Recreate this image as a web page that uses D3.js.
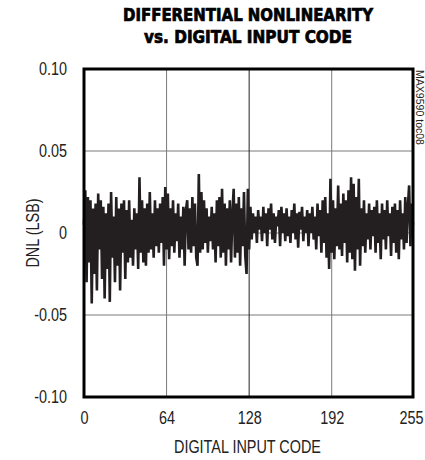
<!DOCTYPE html>
<html>
<head>
<meta charset="utf-8">
<script src="https://cdn.jsdelivr.net/npm/d3@7"></script>
<style>
  body { margin: 0; background: #fff; }
  svg { display: block; }
  .narrow { font-family: "Liberation Sans", Arial, sans-serif; }
</style>
</head>
<body>
<div id="chart"></div>
<script>
// tick positions and labels
const xTicks = [0, 64, 128, 192, 255];
const yTicks = [0.10, 0.05, 0, -0.05, -0.10];
const yTickLabels = ['0.10', '0.05', '0', '-0.05', '-0.10'];

// DNL per code 0..255
const dnl = [
  0.005, 0.026, -0.03, 0.022, -0.018, 0.02, -0.043, 0.015, -0.025, 0.018, -0.035, 0.024, -0.01, 0.02, -0.028, 0.016,
  -0.04, 0.012, -0.022, 0.018, -0.042, 0.025, -0.015, 0.01, -0.03, 0.022, -0.02, 0.015, -0.035, 0.018, -0.012, 0.02,
  -0.028, 0.014, -0.018, 0.02, -0.015, 0.008, -0.02, 0.015, -0.01, 0.012, -0.022, 0.034, -0.012, 0.02, -0.018, 0.015,
  -0.02, 0.018, -0.012, 0.025, -0.01, 0.012, -0.015, 0.02, -0.008, 0.015, -0.012, 0.018, -0.006, 0.022, -0.02, 0.028,
  -0.01, 0.024, -0.016, 0.015, -0.008, 0.02, -0.012, 0.012, -0.005, 0.018, -0.015, 0.01, -0.01, 0.016, -0.02, 0.014,
  0.02, -0.01, 0.015, -0.012, 0.022, -0.008, 0.018, -0.015, -0.02, 0.036, -0.012, 0.025, -0.01, 0.02, -0.006, 0.015,
  -0.012, 0.01, -0.005, 0.016, -0.01, 0.012, -0.018, 0.02, -0.008, 0.022, -0.015, 0.027, -0.012, 0.018, -0.02, 0.015,
  -0.01, 0.02, -0.018, 0.012, 0.027, -0.015, 0.018, -0.012, 0.022, -0.02, 0.015, -0.008, 0.025, -0.014, -0.025, 0.027,
  -0.01, 0.016, -0.004, 0.012, 0.0, 0.01, -0.006, 0.014, 0.002, 0.01, -0.005, 0.016, 0.0, 0.012, -0.008, 0.015,
  0.002, 0.018, -0.004, 0.012, -0.006, 0.01, 0.004, 0.014, -0.008, 0.016, 0.0, 0.012, -0.005, 0.015, -0.002, 0.01,
  -0.006, 0.014, 0.0, 0.018, -0.004, 0.012, -0.009, 0.013, 0.002, 0.016, -0.005, 0.01, 0.0, 0.014, -0.008, 0.012,
  0.0, 0.016, -0.004, 0.01, -0.01, 0.018, -0.002, 0.014, -0.012, 0.02, -0.006, 0.022, -0.015, 0.012, -0.022, 0.033,
  -0.012, 0.02, -0.016, 0.015, -0.008, 0.029, -0.01, 0.018, -0.014, 0.024, -0.006, 0.02, -0.018, 0.026, -0.012, 0.034,
  -0.016, 0.03, -0.023, 0.022, -0.01, 0.033, -0.02, 0.015, -0.008, 0.02, -0.012, 0.012, -0.004, 0.018, -0.01, 0.014,
  -0.002, 0.016, -0.012, 0.02, -0.006, 0.012, -0.016, 0.018, -0.004, 0.014, -0.01, 0.02, -0.002, 0.012, -0.014, 0.016,
  -0.006, 0.018, -0.012, 0.014, -0.016, 0.02, -0.004, 0.012, -0.01, 0.022, -0.006, 0.016, 0.029, -0.008, 0.018, 0.005
];

const width = 425, height = 460;
const margin = { top: 69, right: 12, bottom: 63, left: 84 };
const innerW = width - margin.left - margin.right;
const innerH = height - margin.top - margin.bottom;

const svg = d3.select('#chart').append('svg')
  .attr('width', width)
  .attr('height', height);

const x = d3.scaleLinear().domain([0, 255]).range([0, innerW]);
const y = d3.scaleLinear().domain([-0.10, 0.10]).range([innerH, 0]);

// title
const title = svg.append('g')
  .attr('font-family', '"DejaVu Sans Condensed", "DejaVu Sans", sans-serif')
  .attr('font-weight', 'bold')
  .attr('font-size', 18)
  .attr('text-anchor', 'middle')
  .attr('fill', '#000')
  .attr('stroke', '#000')
  .attr('stroke-width', 0.7);
title.append('text').attr('x', 248).attr('y', 21)
  .attr('textLength', 250).attr('lengthAdjust', 'spacingAndGlyphs')
  .text('DIFFERENTIAL NONLINEARITY');
title.append('text').attr('x', 248).attr('y', 43)
  .attr('textLength', 208).attr('lengthAdjust', 'spacingAndGlyphs')
  .text('vs. DIGITAL INPUT CODE');

const g = svg.append('g').attr('transform', `translate(${margin.left},${margin.top})`);

// grid
g.append('g').selectAll('line')
  .data(yTicks.filter(d => Math.abs(d) < 0.1))
  .join('line')
  .attr('x1', 0).attr('x2', innerW)
  .attr('y1', d => y(d)).attr('y2', d => y(d))
  .attr('stroke', '#7a7a7a').attr('stroke-width', 1);

g.append('g').selectAll('line')
  .data(xTicks.filter(d => d > 0 && d < 255))
  .join('line')
  .attr('x1', d => x(d)).attr('x2', d => x(d))
  .attr('y1', 0).attr('y2', innerH)
  .attr('stroke', d => d === 128 ? '#222' : '#7a7a7a').attr('stroke-width', 1);

// data
const line = d3.line()
  .x((d, i) => x(i))
  .y(d => y(d));

g.append('path')
  .datum(dnl)
  .attr('d', line)
  .attr('fill', 'none')
  .attr('stroke', '#231f20')
  .attr('stroke-width', 2.6)
  .attr('stroke-linejoin', 'miter')
  .attr('stroke-miterlimit', 3);

// frame
g.append('rect')
  .attr('x', 0).attr('y', 0)
  .attr('width', innerW).attr('height', innerH)
  .attr('fill', 'none')
  .attr('stroke', '#000')
  .attr('stroke-width', 3);

// axes labels
const yAxis = d3.axisLeft(y)
  .tickValues(yTicks)
  .tickSize(0)
  .tickPadding(17)
  .tickFormat((d, i) => yTickLabels[i]);
const ya = g.append('g').call(yAxis);
ya.select('.domain').remove();
ya.selectAll('text').attr('class', 'narrow').attr('font-size', 18).attr('fill', '#222');

const xAxis = d3.axisBottom(x)
  .tickValues(xTicks)
  .tickSize(0)
  .tickPadding(14);
const xa = g.append('g').attr('transform', `translate(0,${innerH})`).call(xAxis);
xa.select('.domain').remove();
xa.selectAll('text').attr('class', 'narrow').attr('font-size', 18).attr('fill', '#222');
// the last label sits against the right edge, as in the original
xa.selectAll('.tick').filter(d => d === 255).select('text').attr('dx', -2);

svg.append('text')
  .attr('class', 'narrow')
  .attr('x', margin.left + innerW / 2 - 1)
  .attr('y', 453)
  .attr('text-anchor', 'middle')
  .attr('font-size', 18)
  .attr('fill', '#222')
  .text('DIGITAL INPUT CODE');

svg.append('text')
  .attr('class', 'narrow')
  .attr('transform', `translate(39,${margin.top + innerH / 2}) rotate(-90)`)
  .attr('text-anchor', 'middle')
  .attr('font-size', 18)
  .attr('fill', '#222')
  .text('DNL (LSB)');

// part number tag
svg.append('text')
  .attr('class', 'narrow')
  .attr('transform', 'translate(416,70) rotate(90)')
  .attr('font-size', 10)
  .attr('fill', '#222')
  .attr('textLength', 75)
  .attr('lengthAdjust', 'spacingAndGlyphs')
  .text('MAX9590 toc08');

// squeeze the regular text to look like the condensed face of the original
svg.selectAll('text.narrow').filter(function() { return !this.hasAttribute('textLength'); })
  .each(function() {
    const w = this.getComputedTextLength();
    d3.select(this).attr('textLength', w * 0.8).attr('lengthAdjust', 'spacingAndGlyphs');
  });
</script>
</body>
</html>
